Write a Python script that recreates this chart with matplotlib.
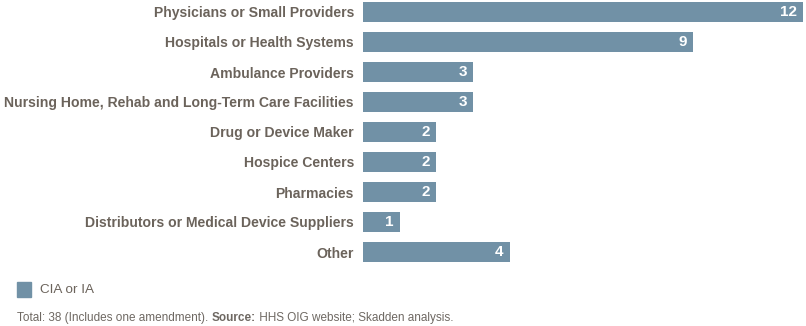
import matplotlib.pyplot as plt
from matplotlib.patches import Rectangle

categories = [
    "Physicians or Small Providers",
    "Hospitals or Health Systems",
    "Ambulance Providers",
    "Nursing Home, Rehab and Long-Term Care Facilities",
    "Drug or Device Maker",
    "Hospice Centers",
    "Pharmacies",
    "Distributors or Medical Device Suppliers",
    "Other",
]
values = [12, 9, 3, 3, 2, 2, 2, 1, 4]
series_name = "CIA or IA"

bar_color = "#7191a6"
label_color = "#6b635b"
foot_color = "#6e6862"

plt.rcParams['font.family'] = ['Liberation Sans', 'DejaVu Sans']

fig = plt.figure(figsize=(8.06, 3.26), dpi=100)
ax = fig.add_axes([363 / 806, 1 - 264 / 326, 440 / 806, 264 / 326])

y = list(range(len(categories)))
ax.barh(y, values, height=0.667, color=bar_color)
ax.set_xlim(0, 12)
ax.set_ylim(len(categories) - 0.6, -0.4)

for yi, v in zip(y, values):
    ax.text(v - 0.17, yi, str(v), ha="right", va="center", color="white",
            fontsize=11, fontweight="bold")

ax.set_yticks(y)
ax.set_yticklabels(categories, fontsize=10.1, fontweight="bold", color=label_color)
ax.tick_params(axis="y", length=0, pad=6.5)
ax.set_xticks([])
for s in ax.spines.values():
    s.set_visible(False)

# legend
fig.patches.append(Rectangle((17 / 806, 1 - 297 / 326), 14 / 806, 15 / 326,
                             transform=fig.transFigure, color=bar_color))
fig.text(40 / 806, 1 - 290 / 326, series_name, fontsize=9.7, color=label_color,
         va="center", ha="left")

# footnote
fs = 8.5
t1 = fig.text(17 / 806, 1 - 318 / 326, "Total: 38 (Includes one amendment). ",
              fontsize=fs, color=foot_color, va="center", ha="left")
fig.canvas.draw()
bb = t1.get_window_extent()
t2 = fig.text(bb.x1 / 806, 1 - 318 / 326, "Source:", fontsize=fs, fontweight="bold",
              color=foot_color, va="center", ha="left")
fig.canvas.draw()
bb2 = t2.get_window_extent()
fig.text(bb2.x1 / 806, 1 - 318 / 326, " HHS OIG website; Skadden analysis.",
         fontsize=fs, color=foot_color, va="center", ha="left")

fig.savefig("out.png", dpi=100)
